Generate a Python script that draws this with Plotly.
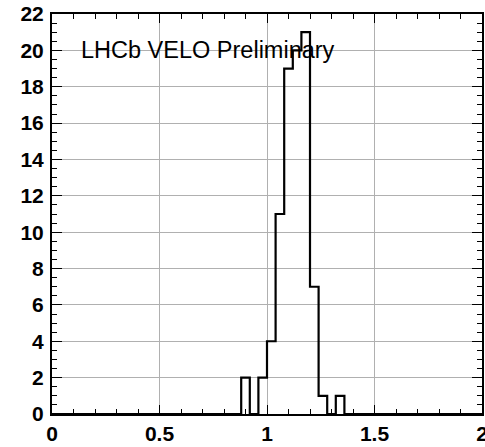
import plotly.graph_objects as go

# Histogram data: 50 bins from 0 to 2 (width 0.04)
bin_lo = 0.0
bin_width = 0.04
counts = [0]*22 + [2, 0, 2, 4, 11, 19, 20, 21, 7, 1, 0, 1] + [0]*16
x_ticks = [0, 0.5, 1, 1.5, 2]
x_ticklabels = ["0", "0.5", "1", "1.5", "2"]
y_ticks = list(range(0, 23, 2))
label = "LHCb VELO Preliminary"

edges = [bin_lo + i * bin_width for i in range(len(counts) + 1)]
xs = edges
ys = counts + [counts[-1]]

fig = go.Figure()
fig.add_trace(go.Scatter(x=xs, y=ys, mode="lines", line=dict(shape="hv", color="black", width=2.2),
                         hoverinfo="skip", showlegend=False))
# invisible trace to activate mirror axes (top/right) carrying minor ticks
fig.add_trace(go.Scatter(x=[edges[0]], y=[0], xaxis="x2", yaxis="y2", mode="markers",
                         marker=dict(opacity=0), hoverinfo="skip", showlegend=False))

font_tick = dict(family="Liberation Sans, Arial", size=21, color="black", weight="bold")
minor_x = dict(dtick=0.1, ticks="inside", ticklen=5, tickcolor="black", tickwidth=1, showgrid=False)
minor_y = dict(dtick=0.5, ticks="inside", ticklen=5, tickcolor="black", tickwidth=1, showgrid=False)
fig.update_layout(
    width=485, height=447,
    margin=dict(l=52, r=3, t=14, b=33),
    paper_bgcolor="white", plot_bgcolor="white",
    showlegend=False,
    xaxis=dict(range=[0, 2], tickvals=x_ticks, ticktext=x_ticklabels, ticks="inside", ticklen=9,
               tickcolor="black", tickwidth=1, showline=True, linecolor="black", linewidth=2,
               mirror=True, showgrid=True, gridcolor="#b0b0b0", gridwidth=1, zeroline=False,
               tickfont=font_tick, automargin=False, ticklabeloverflow="allow",
               minor=minor_x),
    xaxis2=dict(range=[0, 2], overlaying="x", side="top", tickvals=x_ticks, ticks="inside", ticklen=9,
                tickcolor="black", tickwidth=1, showticklabels=False, showgrid=False, zeroline=False,
                showline=False, automargin=False, minor=minor_x),
    yaxis=dict(range=[0, 22], tickvals=y_ticks, ticks="inside", ticklen=10, tickcolor="black", tickwidth=1,
               showline=True, linecolor="black", linewidth=2, mirror=True, showgrid=True,
               gridcolor="#b0b0b0", gridwidth=1, zeroline=False, tickfont=font_tick, ticklabelstandoff=2,
               automargin=False, ticklabeloverflow="allow", minor=minor_y),
    yaxis2=dict(range=[0, 22], overlaying="y", side="right", tickvals=y_ticks, ticks="inside", ticklen=10,
                tickcolor="black", tickwidth=1, showticklabels=False, showgrid=False, zeroline=False,
                showline=False, automargin=False, minor=minor_y),
    annotations=[dict(x=0.125, y=20, xref="x", yref="y", text=label, showarrow=False, xanchor="left",
                      yanchor="middle", font=dict(family="Liberation Sans, Arial", size=23.5, color="black"))],
)

fig.write_html("out.html")
